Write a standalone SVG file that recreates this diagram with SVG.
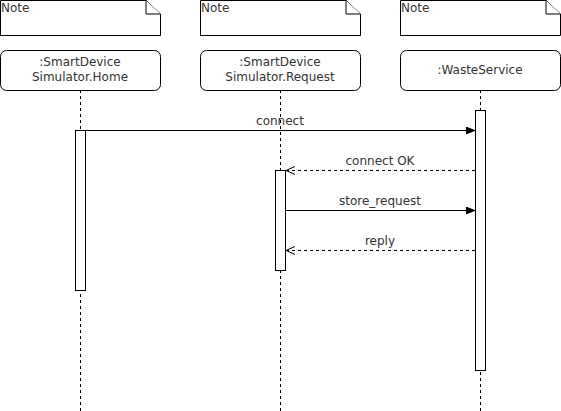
<svg xmlns="http://www.w3.org/2000/svg" width="561" height="411" viewBox="0 0 561 411">
<style>
text{font-family:"DejaVu Sans",Verdana,sans-serif;font-size:12px;fill:#333}
.note{fill:#fff;stroke:#000;stroke-width:1}
.head{fill:#fff;stroke:#000;stroke-width:1}
.life{stroke:#000;stroke-dasharray:3,3;fill:none}
.act{fill:#fff;stroke:#000}
.msg{stroke:#000;fill:none}
.ret{stroke:#000;fill:none;stroke-dasharray:3,3}
</style>
<defs>
<marker id="fill" markerWidth="10" markerHeight="8" refX="9" refY="4" orient="auto" markerUnits="userSpaceOnUse"><path d="M0,0 L10,4 L0,8 Z" fill="#000"/></marker>
<marker id="open" markerWidth="10" markerHeight="10" refX="9" refY="5" orient="auto" markerUnits="userSpaceOnUse"><path d="M0,1 L9,5 L0,9" fill="none" stroke="#000"/></marker>
</defs>
<g id="note1"><path class="note" d="M0.5,0.5 H146 L160.5,14 V35.5 H0.5 Z"/><path class="note" d="M146,0.5 V14 H160.5"/><text x="1" y="12">Note</text></g>
<g id="note2"><path class="note" d="M200.5,0.5 H346 L360.5,14 V35.5 H200.5 Z"/><path class="note" d="M346,0.5 V14 H360.5"/><text x="201" y="12">Note</text></g>
<g id="note3"><path class="note" d="M400.5,0.5 H546 L560.5,14 V35.5 H400.5 Z"/><path class="note" d="M546,0.5 V14 H560.5"/><text x="401" y="12">Note</text></g>
<g id="lifelines">
<line class="life" x1="80.5" y1="90" x2="80.5" y2="411"/>
<line class="life" x1="280.5" y1="90" x2="280.5" y2="411"/>
<line class="life" x1="480.5" y1="90" x2="480.5" y2="411"/>
</g>
<g id="home"><rect class="head" x="0.5" y="50.5" width="160" height="40" rx="6"/><text x="80" y="66" text-anchor="middle">:SmartDevice</text><text x="80" y="81" text-anchor="middle">Simulator.Home</text><rect class="act" x="75.5" y="130.5" width="10" height="160"/></g>
<g id="request"><rect class="head" x="200.5" y="50.5" width="160" height="40" rx="6"/><text x="280" y="66" text-anchor="middle">:SmartDevice</text><text x="280" y="81" text-anchor="middle">Simulator.Request</text><rect class="act" x="275.5" y="170.5" width="10" height="100"/></g>
<g id="waste"><rect class="head" x="400.5" y="50.5" width="160" height="40" rx="6"/><text x="480" y="74" text-anchor="middle">:WasteService</text><rect class="act" x="475.5" y="110.5" width="10" height="260"/></g>
<g id="connectors">
<line class="msg" x1="85.5" y1="130.5" x2="475" y2="130.5" marker-end="url(#fill)"/>
<text x="280" y="125" text-anchor="middle">connect</text>
<line class="ret" x1="475" y1="170.5" x2="286" y2="170.5" marker-end="url(#open)"/>
<text x="380" y="165" text-anchor="middle">connect OK</text>
<line class="msg" x1="285.5" y1="210.5" x2="475" y2="210.5" marker-end="url(#fill)"/>
<text x="380" y="205" text-anchor="middle">store_request</text>
<line class="ret" x1="475" y1="250.5" x2="286" y2="250.5" marker-end="url(#open)"/>
<text x="380" y="245" text-anchor="middle">reply</text>
</g>
</svg>
